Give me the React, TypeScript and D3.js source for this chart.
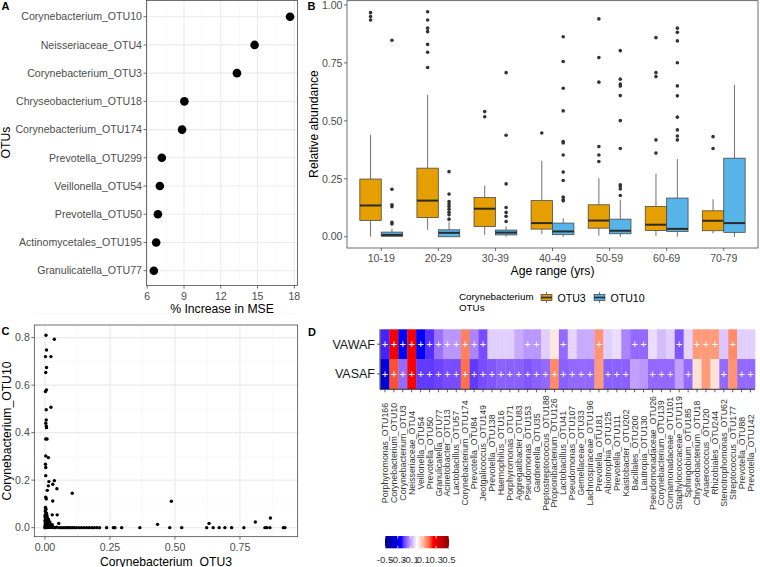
import React from "react";
import * as d3 from "d3";

const FONT = "'Liberation Sans', Arial, Helvetica, sans-serif";
const TICK_COL = "#4d4d4d";
const GRID_MAJOR = "#ebebeb";
const GRID_MINOR = "#f5f5f5";
const BORDER = "#333333";

// ---------- Panel A ----------
const otuNames = [
  "Corynebacterium_OTU10", "Neisseriaceae_OTU4", "Corynebacterium_OTU3", "Chryseobacterium_OTU18",
  "Corynebacterium_OTU174", "Prevotella_OTU299", "Veillonella_OTU54", "Prevotella_OTU50",
  "Actinomycetales_OTU195", "Granulicatella_OTU77",
];
const mseIncrease = [17.65, 14.76, 13.32, 9.03, 8.84, 7.19, 7.03, 6.87, 6.73, 6.54];
const mseTicks = [6, 9, 12, 15, 18];

// ---------- Panel B ----------
const ageGroups = ["10-19", "20-29", "30-39", "40-49", "50-59", "60-69", "70-79"];
const seriesNames = ["OTU3", "OTU10"];
const seriesColors = ["#E69F00", "#56B4E9"];
// [whiskerLow, q1, median, q3, whiskerHigh]
const otu3Stats = [
  [0.0, 0.07, 0.135, 0.249, 0.44],
  [0.03, 0.083, 0.156, 0.296, 0.612],
  [0.008, 0.044, 0.121, 0.169, 0.22],
  [0.012, 0.033, 0.059, 0.156, 0.328],
  [0.004, 0.037, 0.07, 0.138, 0.253],
  [0.004, 0.027, 0.052, 0.131, 0.272],
  [0.015, 0.026, 0.069, 0.112, 0.162],
];
const otu10Stats = [
  [0.0, 0.002, 0.008, 0.02, 0.035],
  [0.0, 0.0, 0.017, 0.03, 0.065],
  [0.0, 0.008, 0.018, 0.029, 0.045],
  [0.0, 0.009, 0.023, 0.059, 0.08],
  [0.0, 0.013, 0.026, 0.076, 0.16],
  [0.0, 0.023, 0.034, 0.167, 0.335],
  [0.0, 0.019, 0.059, 0.339, 0.655],
];
const otu3Outliers = [
  [0.967, 0.95, 0.935],
  [0.971, 0.935, 0.9, 0.885, 0.83, 0.796, 0.73],
  [0.54, 0.518],
  [0.448],
  [0.94, 0.773, 0.667, 0.389, 0.353, 0.325],
  [0.859, 0.708, 0.691, 0.418, 0.361],
  [0.432, 0.381],
];
const otu10Outliers = [
  [0.848, 0.205, 0.138, 0.13, 0.062, 0.055],
  [0.281, 0.184, 0.152, 0.141, 0.131, 0.119, 0.106, 0.095, 0.076],
  [0.708, 0.438, 0.228, 0.126, 0.105, 0.088, 0.066],
  [0.863, 0.756, 0.641, 0.543, 0.411, 0.405, 0.353, 0.279, 0.243, 0.171, 0.16, 0.155],
  [0.803, 0.68, 0.659, 0.65, 0.609, 0.501, 0.381, 0.224, 0.217, 0.206, 0.178],
  [0.9, 0.882, 0.845, 0.751, 0.651, 0.608, 0.516, 0.461, 0.435, 0.418],
  [],
];
const abundanceTicks = [0, 0.25, 0.5, 0.75, 1];

// ---------- Panel C ----------
// [Corynebacterium_OTU3, Corynebacterium_OTU10]
const scatterPoints = [
  [0.004, 0.81], [0.036, 0.793], [0.006, 0.748], [0.002, 0.72], [0.023, 0.72], [0.006, 0.674],
  [0.003, 0.653], [0.006, 0.58], [0.002, 0.573], [0.023, 0.507], [0.005, 0.496], [0.005, 0.453],
  [0.003, 0.44], [0.005, 0.428], [0.006, 0.421], [0.003, 0.373], [0.008, 0.373], [0.003, 0.302],
  [0.013, 0.295], [0.002, 0.267], [0.003, 0.253], [0.003, 0.219], [0.036, 0.198], [0.015, 0.194],
  [0.03, 0.183], [0.013, 0.176], [0.046, 0.164], [0.009, 0.157], [0.105, 0.145], [0.03, 0.112],
  [0.003, 0.128], [0.005, 0.121], [0.486, 0.111], [0.028, 0.054], [0.047, 0.054], [0.053, 0.018],
  [0.433, 0.014], [0.631, 0.018], [0.809, 0.024], [0.867, 0.041],
  [0.002, 0.085], [0.004, 0.078], [0.001, 0.07], [0.003, 0.065], [0.006, 0.06], [0.002, 0.055],
  [0.008, 0.05], [0.004, 0.047], [0.001, 0.043], [0.01, 0.04], [0.005, 0.037], [0.003, 0.033],
  [0.012, 0.03], [0.007, 0.028], [0.002, 0.025], [0.015, 0.022], [0.009, 0.02], [0.004, 0.018],
  [0.018, 0.016], [0.011, 0.014], [0.006, 0.012], [0.022, 0.01], [0.014, 0.009], [0.008, 0.008],
  [0.003, 0.007], [0.026, 0.006], [0.017, 0.005], [0.01, 0.004], [0.005, 0.003], [0.03, 0.003],
  [0.02, 0.002], [0.012, 0.002], [0.001, 0.001], [0.035, 0.001], [0.025, 0.001], [0.016, 0.001],
  [0.007, 0.0], [0.04, 0.0], [0.045, 0.002], [0.028, 0.012], [0.019, 0.024], [0.013, 0.035],
  [0.007, 0.042], [0.002, 0.012], [0.0, 0.0], [0.001, 0.02], [0.0, 0.03], [0.0, 0.05], [0.0, 0.008],
  [0.055, 0.0], [0.062, 0.0], [0.07, 0.0], [0.078, 0.0], [0.085, 0.0], [0.09, 0.0], [0.098, 0.0],
  [0.105, 0.0], [0.113, 0.0], [0.12, 0.0], [0.13, 0.0], [0.14, 0.0], [0.15, 0.0], [0.16, 0.0],
  [0.17, 0.0], [0.18, 0.0], [0.19, 0.0], [0.2, 0.0], [0.21, 0.0], [0.237, 0.0], [0.263, 0.0],
  [0.269, 0.0], [0.295, 0.0], [0.365, 0.0], [0.48, 0.0], [0.526, 0.0], [0.622, 0.0], [0.647, 0.0],
  [0.67, 0.0], [0.692, 0.0], [0.718, 0.0], [0.765, 0.0], [0.846, 0.0], [0.853, 0.0], [0.865, 0.0],
  [0.917, 0.0], [0.923, 0.0],
];
const scatterXTicks = [0, 0.25, 0.5, 0.75];
const scatterYTicks = [0, 0.2, 0.4, 0.6, 0.8];

// ---------- Panel D ----------
const heatOtus = [
  "Porphyromonas_OTU166", "Corynebacterium_OTU10", "Corynebacterium_OTU3", "Neisseriaceae_OTU4",
  "Veillonella_OTU54", "Prevotella_OTU50", "Granulicatella_OTU77", "Acinetobacter_OTU13",
  "Lactobacillus_OTU57", "Corynebacterium_OTU174", "Prevotella_OTU84", "Jeotgalicoccus_OTU149",
  "Prevotella_OTU138", "Haemophilus_OTU16", "Porphyromonas_OTU71", "Aggregatibacter_OTU83",
  "Pseudomonas_OTU153", "Gardnerella_OTU35", "Peptostreptococcus_OTU188", "Propionibacterium_OTU126",
  "Lactobacillus_OTU41", "Pseudomonas_OTU107", "Gemellaceae_OTU33", "Lachnospiraceae_OTU196",
  "Prevotella_OTU181", "Abiotrophia_OTU125", "Prevotella_OTU111", "Kaistobacter_OTU202",
  "Bacillales_OTU200", "Lautropia_OTU130", "Pseudomonadaceae_OTU26", "Corynebacterium_OTU139",
  "Comamonadaceae_OTU101", "Staphylococcaceae_OTU119", "Sphingobium_OTU185", "Chryseobacterium_OTU18",
  "Anaerococcus_OTU20", "Rhizobiales_OTU244", "Stenotrophomonas_OTU62", "Streptococcus_OTU177",
  "Prevotella_OTU88", "Prevotella_OTU142",
];
const heatRows = ["VAWAF", "VASAF"];
const vawafValues = [
  -0.23, 0.27, -0.26, 0.27, -0.25, -0.22, -0.15, -0.11, -0.11, 0.16, -0.13, -0.19, -0.05, -0.05,
  -0.05, -0.09, -0.11, -0.11, -0.05, 0.03, -0.16, -0.045, -0.09, -0.09, 0.14, -0.05, -0.035, -0.13,
  -0.16, -0.16, -0.035, -0.07, -0.05, -0.18, -0.045, 0.13, 0.13, 0.13, -0.06, 0.15, -0.05, -0.05,
];
const vasafValues = [
  -0.33, 0.21, -0.16, 0.26, -0.21, -0.21, -0.2, -0.19, -0.19, 0.18, -0.21, -0.19, -0.18, -0.17,
  -0.17, -0.17, -0.18, -0.17, -0.16, 0.15, -0.17, -0.16, -0.16, -0.16, 0.13, -0.17, -0.17, -0.17,
  -0.1, -0.11, -0.16, -0.16, -0.16, -0.1, -0.16, 0.04, 0.13, 0.04, -0.16, 0.14, -0.16, -0.16,
];
const vawafSig = [
  1, 1, 1, 1, 1, 1, 1, 1, 1, 1, 1, 1, 0, 0, 0, 0, 1, 1, 0, 0, 1, 0, 0, 0, 1, 0, 0, 0,
  1, 1, 0, 0, 0, 1, 0, 1, 1, 1, 0, 1, 0, 0,
];
const vasafSig = [
  1, 1, 1, 1, 1, 1, 1, 1, 1, 1, 1, 1, 1, 1, 1, 1, 1, 1, 1, 1, 1, 1, 1, 1, 0, 1, 1, 1,
  0, 0, 1, 1, 1, 0, 1, 0, 0, 0, 1, 0, 1, 1,
];
const colorbarTicks = [-0.5, -0.3, -0.1, 0.1, 0.3, 0.5];

function PanelA() {
  const x = d3.scaleLinear().domain([5.94, 18.26]).range([146.5, 297.5]);
  const y = d3.scalePoint<string>().domain(otuNames).range([16.7, 270.7]);
  const minor = mseTicks.slice(1).map((t, i) => (t + mseTicks[i]) / 2);
  const L = 146.5, R = 297.5, T = 0.5, B = 285.5;
  return (
    <g>
      {minor.map((t) => (
        <line key={"mn" + t} x1={x(t)} x2={x(t)} y1={T} y2={B} stroke={GRID_MINOR} strokeWidth={0.6} />
      ))}
      {mseTicks.map((t) => (
        <line key={"mj" + t} x1={x(t)} x2={x(t)} y1={T} y2={B} stroke={GRID_MAJOR} strokeWidth={1.1} />
      ))}
      {otuNames.map((n) => (
        <line key={"h" + n} x1={L} x2={R} y1={y(n)} y2={y(n)} stroke={GRID_MAJOR} strokeWidth={1.1} />
      ))}
      {otuNames.map((n, i) => (
        <circle key={"p" + n} cx={x(mseIncrease[i])} cy={y(n)} r={4.3} fill="#000" />
      ))}
      <rect x={L} y={T} width={R - L} height={B - T} fill="none" stroke={BORDER} strokeWidth={0.7} />
      {otuNames.map((n) => (
        <g key={"yl" + n}>
          <line x1={L - 3} x2={L} y1={y(n)} y2={y(n)} stroke={BORDER} strokeWidth={0.7} />
          <text x={L - 4.5} y={y(n)} dy="0.35em" textAnchor="end" fontSize={10.6} fill={TICK_COL}>{n}</text>
        </g>
      ))}
      {mseTicks.map((t) => (
        <g key={"xl" + t}>
          <line x1={x(t)} x2={x(t)} y1={B} y2={B + 3} stroke={BORDER} strokeWidth={0.7} />
          <text x={x(t)} y={299.5} textAnchor="middle" fontSize={10.6} fill={TICK_COL}>{t}</text>
        </g>
      ))}
      <text x={(L + R) / 2} y={313} textAnchor="middle" fontSize={12.2} fill="#000">% Increase in MSE</text>
      <text transform={`translate(10,142.5) rotate(-90)`} textAnchor="middle" fontSize={12.2} fill="#000">OTUs</text>
      <text x={1.5} y={10} fontSize={11} fontWeight="bold" fill="#000">A</text>
    </g>
  );
}

function PanelB() {
  const L = 347, R = 758, T = 0.7, B = 248;
  const x = d3.scaleBand<string>().domain(ageGroups).range([L, R]).paddingInner(0).paddingOuter(0.1);
  const y = d3.scaleLinear().domain([-0.0485, 1.0185]).range([B, T]);
  const bw = x.bandwidth();
  const dodge = d3.scaleBand<string>().domain(seriesNames).range([bw * 0.125, bw * 0.875]);
  const allStats = [otu3Stats, otu10Stats];
  const allOut = [otu3Outliers, otu10Outliers];
  return (
    <g>
      {ageGroups.map((g, gi) =>
        seriesNames.map((s, si) => {
          const st = allStats[si][gi];
          const x0 = (x(g) as number) + (dodge(s) as number);
          const w = dodge.bandwidth();
          const cx = x0 + w / 2;
          return (
            <g key={g + s}>
              <line x1={cx} x2={cx} y1={y(st[3])} y2={y(st[4])} stroke={BORDER} strokeWidth={0.7} />
              <line x1={cx} x2={cx} y1={y(st[0])} y2={y(st[1])} stroke={BORDER} strokeWidth={0.7} />
              <rect x={x0} y={y(st[3])} width={w} height={Math.max(0.5, y(st[1]) - y(st[3]))}
                fill={seriesColors[si]} stroke="#4a4a4a" strokeWidth={0.8} />
              <line x1={x0} x2={x0 + w} y1={y(st[2])} y2={y(st[2])} stroke="#2b2b2b" strokeWidth={2} />
              {allOut[si][gi].map((v, k) => (
                <circle key={k} cx={cx} cy={y(v)} r={1.8} fill="#333" />
              ))}
            </g>
          );
        })
      )}
      <rect x={L} y={T} width={R - L} height={B - T} fill="none" stroke={BORDER} strokeWidth={0.7} />
      {abundanceTicks.map((t) => (
        <g key={"y" + t}>
          <line x1={L - 3} x2={L} y1={y(t)} y2={y(t)} stroke={BORDER} strokeWidth={0.7} />
          <text x={L - 4.5} y={y(t)} dy="0.35em" textAnchor="end" fontSize={10.6} fill={TICK_COL}>
            {d3.format(".2f")(t)}
          </text>
        </g>
      ))}
      {ageGroups.map((g) => {
        const cx = (x(g) as number) + bw / 2;
        return (
          <g key={"x" + g}>
            <line x1={cx} x2={cx} y1={B} y2={B + 3} stroke={BORDER} strokeWidth={0.7} />
            <text x={cx} y={261.5} textAnchor="middle" fontSize={10.6} fill={TICK_COL}>{g}</text>
          </g>
        );
      })}
      <text x={(L + R) / 2} y={274.5} textAnchor="middle" fontSize={12.2} fill="#000">Age range (yrs)</text>
      <text transform={`translate(318,124) rotate(-90)`} textAnchor="middle" fontSize={12.2} fill="#000">Relative abundance</text>
      <text x={307.5} y={9.5} fontSize={11} fontWeight="bold" fill="#000">B</text>
      {/* legend */}
      <text x={459} y={299.5} fontSize={9.8} fill="#000">Corynebacterium</text>
      <text x={459} y={310.5} fontSize={9.8} fill="#000">OTUs</text>
      {seriesNames.map((s, si) => {
        const kx = [540.5, 593.5][si];
        const ky = 291.5;
        const ks = 12;
        return (
          <g key={"lg" + s}>
            <line x1={kx + ks / 2} x2={kx + ks / 2} y1={ky + ks * 0.05} y2={ky + ks * 0.95} stroke={BORDER} strokeWidth={0.7} />
            <rect x={kx + ks * 0.05} y={ky + ks * 0.25} width={ks * 0.9} height={ks * 0.5}
              fill={seriesColors[si]} stroke="#4a4a4a" strokeWidth={0.8} />
            <line x1={kx + ks * 0.05} x2={kx + ks * 0.95} y1={ky + ks / 2} y2={ky + ks / 2} stroke="#2b2b2b" strokeWidth={1.6} />
            <text x={kx + ks + 5} y={302} fontSize={10.6} fill="#000">{s}</text>
          </g>
        );
      })}
    </g>
  );
}

function PanelC() {
  const L = 34.3, R = 297.7, T = 325, B = 536.7;
  const x = d3.scaleLinear().domain([-0.041, 0.972]).range([L, R]);
  const y = d3.scaleLinear().domain([-0.038, 0.853]).range([B, T]);
  const xMinor = scatterXTicks.map((t) => t + 0.125);
  const yMinor = scatterYTicks.map((t) => t + 0.1);
  return (
    <g>
      {xMinor.map((t) => (
        <line key={"xm" + t} x1={x(t)} x2={x(t)} y1={T} y2={B} stroke={GRID_MINOR} strokeWidth={0.6} />
      ))}
      {yMinor.map((t) => (
        <line key={"ym" + t} x1={L} x2={R} y1={y(t)} y2={y(t)} stroke={GRID_MINOR} strokeWidth={0.6} />
      ))}
      {scatterXTicks.map((t) => (
        <line key={"xj" + t} x1={x(t)} x2={x(t)} y1={T} y2={B} stroke={GRID_MAJOR} strokeWidth={1.1} />
      ))}
      {scatterYTicks.map((t) => (
        <line key={"yj" + t} x1={L} x2={R} y1={y(t)} y2={y(t)} stroke={GRID_MAJOR} strokeWidth={1.1} />
      ))}
      {scatterPoints.map((p, i) => (
        <circle key={i} cx={x(p[0])} cy={y(p[1])} r={1.7} fill="#000" />
      ))}
      <rect x={L} y={T} width={R - L} height={B - T} fill="none" stroke={BORDER} strokeWidth={0.7} />
      {scatterYTicks.map((t) => (
        <g key={"yt" + t}>
          <line x1={L - 3} x2={L} y1={y(t)} y2={y(t)} stroke={BORDER} strokeWidth={0.7} />
          <text x={L - 4.5} y={y(t)} dy="0.35em" textAnchor="end" fontSize={10.6} fill={TICK_COL}>{d3.format(".1f")(t)}</text>
        </g>
      ))}
      {scatterXTicks.map((t) => (
        <g key={"xt" + t}>
          <line x1={x(t)} x2={x(t)} y1={B} y2={B + 3} stroke={BORDER} strokeWidth={0.7} />
          <text x={x(t)} y={550.5} textAnchor="middle" fontSize={10.6} fill={TICK_COL}>{d3.format(".2f")(t)}</text>
        </g>
      ))}
      <text x={(L + R) / 2} y={565.5} textAnchor="middle" fontSize={12.2} fill="#000">Corynebacterium_OTU3</text>
      <text transform={`translate(10.5,431) rotate(-90)`} textAnchor="middle" fontSize={12.2} fill="#000">Corynebacterium_OTU10</text>
      <text x={1.5} y={335} fontSize={11} fontWeight="bold" fill="#000">C</text>
    </g>
  );
}

function PanelD() {
  const L = 380.5, R = 755, T = 329.3, B = 388.8;
  const x = d3.scaleBand<string>().domain(heatOtus).range([L, R]);
  const y = d3.scaleBand<string>().domain(heatRows).range([T, B]);
  const color = d3
    .scaleLinear<string>()
    .domain([-0.5, -0.25, 0, 0.25, 0.5])
    .range(["#00008B", "#0000FF", "#FFFFFF", "#FF0000", "#8B0000"])
    .interpolate(d3.interpolateLab);
  const rowVals = [vawafValues, vasafValues];
  const rowSig = [vawafSig, vasafSig];
  const cbL = 385, cbR = 449, cbT = 536, cbB = 548.3;
  const cb = d3.scaleLinear().domain([-0.5, 0.5]).range([cbL, cbR]);
  const stops = d3.range(0, 21).map((i) => -0.5 + i * 0.05);
  const bw = x.bandwidth();
  const bh = y.bandwidth();
  return (
    <g>
      <defs>
        <linearGradient id="cbgrad" x1="0" x2="1" y1="0" y2="0">
          {stops.map((s) => (
            <stop key={s} offset={`${(s + 0.5) * 100}%`} stopColor={color(s)} />
          ))}
        </linearGradient>
      </defs>
      {heatRows.map((r, ri) =>
        heatOtus.map((o, ci) => (
          <rect key={r + o} x={x(o)} y={y(r)} width={bw + 0.3} height={bh + 0.3} fill={color(rowVals[ri][ci])} />
        ))
      )}
      {heatRows.map((r, ri) =>
        heatOtus.map((o, ci) =>
          rowSig[ri][ci] ? (
            <text key={"s" + r + o} x={(x(o) as number) + bw / 2} y={(y(r) as number) + bh / 2} dy="0.36em"
              textAnchor="middle" fontSize={11} fill="#fff">+</text>
          ) : null
        )
      )}
      <line x1={L - 0.5} x2={L - 0.5} y1={T} y2={B + 0.7} stroke="#000" strokeWidth={0.8} />
      <line x1={L - 0.5} x2={R} y1={B + 0.5} y2={B + 0.5} stroke="#000" strokeWidth={0.8} />
      {heatRows.map((r) => (
        <g key={"yl" + r}>
          <line x1={L - 3.5} x2={L - 0.5} y1={(y(r) as number) + bh / 2} y2={(y(r) as number) + bh / 2} stroke="#333" strokeWidth={0.8} />
          <text x={L - 5.5} y={(y(r) as number) + bh / 2} dy="0.35em" textAnchor="end" fontSize={12.5} fill="#1a1a1a">{r}</text>
        </g>
      ))}
      {heatOtus.map((o) => {
        const cx = (x(o) as number) + bw / 2;
        return (
          <g key={"xl" + o}>
            <line x1={cx} x2={cx} y1={B + 0.5} y2={B + 3.5} stroke="#333" strokeWidth={0.8} />
            <text transform={`translate(${cx},453) rotate(-90)`} dy="0.35em" textAnchor="middle" fontSize={8.8} fill="#333">{o}</text>
          </g>
        );
      })}
      <rect x={cbL} y={cbT} width={cbR - cbL} height={cbB - cbT} fill="url(#cbgrad)" />
      {colorbarTicks.map((t) => (
        <g key={"cb" + t}>
          <line x1={cb(t)} x2={cb(t)} y1={cbT} y2={cbT + 2.4} stroke="#fff" strokeWidth={0.8} />
          <line x1={cb(t)} x2={cb(t)} y1={cbB - 2.4} y2={cbB} stroke="#fff" strokeWidth={0.8} />
          <text x={cb(t)} y={563} textAnchor="middle" fontSize={9.6} fill="#333">{String(t)}</text>
        </g>
      ))}
      <text x={308} y={336} fontSize={11} fontWeight="bold" fill="#000">D</text>
    </g>
  );
}

export default function App() {
  return (
    <svg width={760} height={567} fontFamily={FONT}
      style={{ position: "absolute", left: 0, top: 0, background: "#fff", display: "block" }}>
      <rect x={0} y={0} width={760} height={567} fill="#fff" />
      <PanelA />
      <PanelB />
      <PanelC />
      <PanelD />
    </svg>
  );
}
